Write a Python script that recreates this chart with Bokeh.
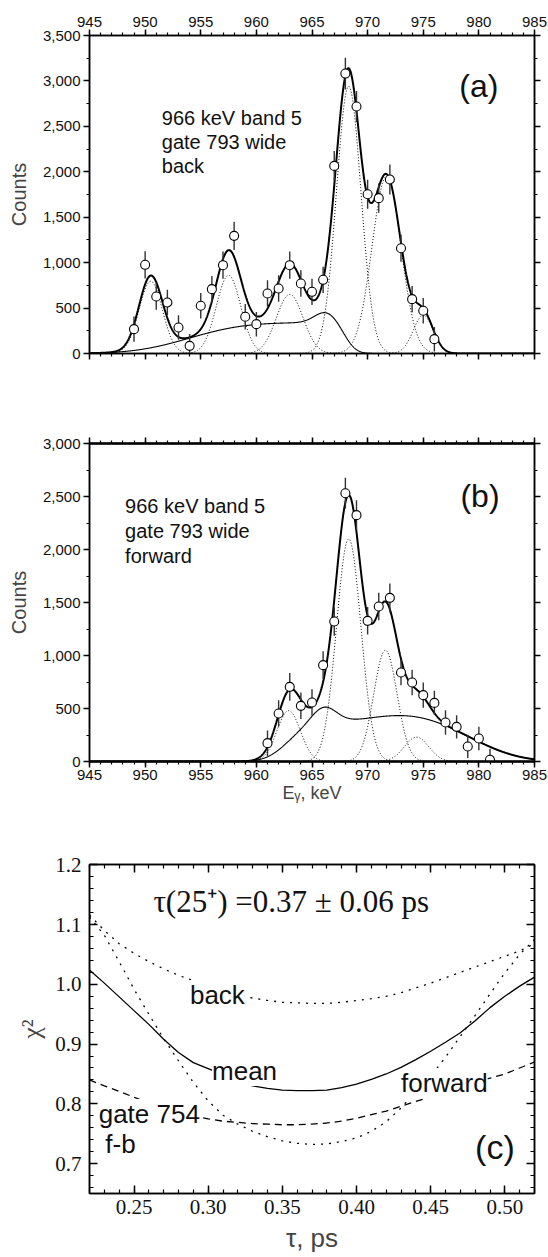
import math
import numpy as np
from bokeh.plotting import figure
from bokeh.layouts import column
from bokeh.models import (LinearAxis, SingleIntervalTicker, NumeralTickFormatter,
                          Label, Range1d, CustomLabelingPolicy)
from bokeh.embed import file_html
from bokeh.resources import INLINE

# ---------------- panel (a): back ----------------
a_energy = [949, 950, 951, 952, 953, 954, 955, 956, 957, 958, 959, 960, 961, 962,
            963, 964, 965, 966, 967, 968, 969, 970, 971, 972, 973, 974, 975, 976]
a_counts = [268, 976, 627, 561, 286, 84, 525, 708, 972, 1295, 404, 323, 660, 715,
            972, 770, 679, 811, 2065, 3081, 2718, 1753, 1710, 1915, 1159, 598, 470, 158]
a_err = [140, 150, 145, 140, 135, 130, 140, 145, 150, 155, 140, 135, 145, 145,
         150, 145, 145, 145, 165, 175, 170, 160, 160, 165, 150, 145, 140, 135]
a_peak_center = [950.5, 957.5, 963.0, 968.3, 971.7, 975.0]
a_peak_height = [795, 860, 650, 2940, 1950, 420]
a_peak_sigma = [1.05, 1.1, 1.2, 1.1, 1.3, 0.9]
a_bg_level = 340
a_bg_rise = [954.0, 5.5]
a_bg_fall = [968.0, 1.2]
a_bg_bump = [966.2, 115, 1.0]

# ---------------- panel (b): forward ----------------
b_energy = [961, 962, 963, 964, 965, 966, 967, 968, 969, 970, 971, 972, 973, 974,
            975, 976, 977, 978, 979, 980, 981]
b_counts = [173, 453, 704, 525, 557, 909, 1321, 2531, 2324, 1327, 1462, 1544, 840, 745,
            626, 553, 368, 327, 142, 217, 16]
b_err = [120, 125, 130, 125, 125, 130, 135, 145, 140, 130, 130, 135, 120, 120,
         120, 115, 115, 110, 110, 110, 105]
b_peak_center = [962.9, 968.3, 971.6, 974.4]
b_peak_height = [480, 2100, 1050, 230]
b_peak_sigma = [1.05, 1.1, 1.05, 1.1]
b_bg_level = 360
b_bg_rise = [962.8, 2.2]
b_bg_fall = [980.0, 4.5]
b_bg_bump = [966.1, 150, 1.1]
b_bg_hump = [973.5, 80, 3.5]

# ---------------- panel (c): chi-square ----------------
tau = [0.22, 0.23, 0.24, 0.25, 0.26, 0.27, 0.28, 0.29, 0.30, 0.31, 0.32, 0.33, 0.34,
       0.35, 0.36, 0.37, 0.38, 0.39, 0.40, 0.41, 0.42, 0.43, 0.44, 0.45, 0.46, 0.47,
       0.48, 0.49, 0.50, 0.51, 0.52]
chi_back = [1.116, 1.090, 1.068, 1.052, 1.038, 1.026, 1.015, 1.006, 0.998, 0.990, 0.983,
            0.977, 0.973, 0.970, 0.969, 0.968, 0.968, 0.970, 0.973, 0.976, 0.980, 0.986,
            0.994, 1.002, 1.011, 1.020, 1.029, 1.038, 1.047, 1.056, 1.068]
chi_forward = [1.113, 1.082, 1.038, 0.992, 0.950, 0.909, 0.872, 0.836, 0.805, 0.781,
               0.766, 0.754, 0.745, 0.738, 0.734, 0.732, 0.733, 0.737, 0.743, 0.754,
               0.770, 0.793, 0.821, 0.846, 0.878, 0.913, 0.948, 0.984, 1.019, 1.050, 1.075]
chi_mean = [1.024, 1.002, 0.979, 0.956, 0.933, 0.908, 0.886, 0.869, 0.859, 0.849, 0.839,
            0.830, 0.826, 0.823, 0.822, 0.822, 0.823, 0.827, 0.833, 0.841, 0.850, 0.861,
            0.874, 0.888, 0.903, 0.919, 0.939, 0.961, 0.980, 0.997, 1.012]
chi_gate754 = [0.840, 0.830, 0.821, 0.811, 0.802, 0.794, 0.787, 0.780, 0.775, 0.771,
               0.769, 0.767, 0.766, 0.765, 0.765, 0.766, 0.768, 0.771, 0.776, 0.782,
               0.788, 0.796, 0.804, 0.812, 0.820, 0.828, 0.836, 0.843, 0.850, 0.860, 0.870]

SANS = "Liberation Sans"
SERIF = "Liberation Serif"


def gauss(x, c, h, s):
    return h * np.exp(-(x - c) ** 2 / (2.0 * s * s))


def erf_arr(v):
    return np.array([math.erf(t) for t in v])


def step_up(x, c, w):
    return 0.5 * (1.0 + erf_arr((x - c) / w))


def step_down(x, c, w):
    return 0.5 * (1.0 - erf_arr((x - c) / w))


def no_labels():
    return CustomLabelingPolicy(code="for (const i of indices) indices.unset(i)\nreturn indices")


def style_axis(ax, font, size, labels=True, inward=False, fmt=None):
    ax.axis_line_width = 1.5
    ax.axis_line_color = "black"
    ax.major_tick_line_width = 1.5
    ax.minor_tick_line_width = 1.2
    ax.major_tick_line_color = "black"
    ax.minor_tick_line_color = "black"
    if inward:
        ax.major_tick_in, ax.major_tick_out = 8, 0
        ax.minor_tick_in, ax.minor_tick_out = 4, 0
    else:
        ax.major_tick_in, ax.major_tick_out = 0, 6
        ax.minor_tick_in, ax.minor_tick_out = 0, 3
    ax.major_label_text_font = font
    ax.major_label_text_color = "#111111"
    if labels:
        ax.major_label_text_font_size = size
        ax.major_label_standoff = 3
        if fmt is not None:
            ax.formatter = fmt
    else:
        ax.major_label_text_font_size = "1px"
        ax.major_label_policy = no_labels()
        ax.major_label_standoff = 0


def spectrum_panel(height, btop, bbot, energy, counts, err, centers, heights, sigmas,
                   bg, ymax, top_labels, bottom_labels, xlabel):
    p = figure(width=548, height=height, x_range=Range1d(945, 985), y_range=Range1d(0, ymax),
               output_backend="svg", toolbar_location=None,
               min_border_left=89, min_border_right=14, min_border_top=btop,
               min_border_bottom=bbot, background_fill_color="white",
               border_fill_color="white")
    p.outline_line_color = "black"
    p.outline_line_width = 1.5
    p.xgrid.visible = False
    p.ygrid.visible = False
    p.xaxis.ticker = SingleIntervalTicker(interval=5, num_minor_ticks=5)
    p.yaxis.ticker = SingleIntervalTicker(interval=500, num_minor_ticks=2)
    style_axis(p.xaxis[0], SANS, "15px", labels=bottom_labels, fmt=NumeralTickFormatter(format="0"))
    style_axis(p.yaxis[0], SANS, "15px", labels=True, fmt=NumeralTickFormatter(format="0,0"))
    if bottom_labels:
        p.xaxis.major_label_standoff = 2
    p.yaxis.axis_label = "Counts"
    p.yaxis.axis_label_text_font = SANS
    p.yaxis.axis_label_text_font_size = "20px"
    p.yaxis.axis_label_text_font_style = "normal"
    p.yaxis.axis_label_standoff = 10
    if xlabel:
        p.xaxis.axis_label = xlabel
        p.xaxis.axis_label_text_font = SANS
        p.xaxis.axis_label_text_font_size = "18px"
        p.xaxis.axis_label_text_font_style = "normal"
        p.xaxis.axis_label_standoff = 0
    top = LinearAxis(ticker=SingleIntervalTicker(interval=5, num_minor_ticks=5))
    style_axis(top, SANS, "15px", labels=top_labels, fmt=NumeralTickFormatter(format="0"))
    p.add_layout(top, "above")
    right = LinearAxis(ticker=SingleIntervalTicker(interval=500, num_minor_ticks=2))
    style_axis(right, SANS, "15px", labels=False)
    p.add_layout(right, "right")

    x = np.linspace(945, 985, 1601)
    comps = [gauss(x, c, h, s) for c, h, s in zip(centers, heights, sigmas)]
    total = bg(x) + sum(comps)
    for comp in comps:
        p.line(x, comp, line_color="black", line_width=1.0, line_dash="1 2")
    p.line(x, bg(x), line_color="black", line_width=1.1)
    p.line(x, total, line_color="black", line_width=2.0)
    lo = [c - e for c, e in zip(counts, err)]
    hi = [c + e for c, e in zip(counts, err)]
    p.segment(x0=energy, y0=lo, x1=energy, y1=hi, line_color="#333333", line_width=1.4)
    p.scatter(energy, counts, marker="circle", size=9, fill_color="white",
              line_color="black", line_width=1.1)
    return p


def bg_a(x):
    return (a_bg_level * step_up(x, *a_bg_rise) * step_down(x, *a_bg_fall)
            + gauss(x, *a_bg_bump))


def bg_b(x):
    return (b_bg_level * step_up(x, *b_bg_rise) * step_down(x, *b_bg_fall)
            + gauss(x, *b_bg_bump)
            + gauss(x, *b_bg_hump) * step_down(x, *b_bg_fall))


pa = spectrum_panel(375, 35, 22, a_energy, a_counts, a_err, a_peak_center, a_peak_height,
                    a_peak_sigma, bg_a, 3500, True, False, None)
for i, t in enumerate(["966 keV band 5", "gate 793 wide", "back"]):
    pa.add_layout(Label(x=951.5, y=2596 - 264 * i, text=t, text_font=SANS,
                        text_font_size="20px", text_baseline="middle", text_align="left",
                        text_color="#111111"))
pa.add_layout(Label(x=980.0, y=2948, text="(a)", text_font=SANS, text_font_size="32px",
                    text_baseline="middle", text_align="center", text_color="#111111"))

pb = spectrum_panel(432, 68, 46, b_energy, b_counts, b_err, b_peak_center, b_peak_height,
                    b_peak_sigma, bg_b, 3000, False, True, "E\u1d67, keV")
pb.xaxis.axis_line_width = 2.5
for i, t in enumerate(["966 keV band 5", "gate 793 wide", "forward"]):
    pb.add_layout(Label(x=948.2, y=2415 - 236 * i, text=t, text_font=SANS,
                        text_font_size="20px", text_baseline="middle", text_align="left",
                        text_color="#111111"))
pb.add_layout(Label(x=980.1, y=2509, text="(b)", text_font=SANS, text_font_size="32px",
                    text_baseline="middle", text_align="center", text_color="#111111"))

# ---------------- panel (c) ----------------
pc = figure(width=548, height=450, x_range=Range1d(0.22, 0.52), y_range=Range1d(0.65, 1.2005),
            output_backend="svg", toolbar_location=None,
            min_border_left=85, min_border_right=2, min_border_top=57, min_border_bottom=64,
            background_fill_color="white", border_fill_color="white")
pc.outline_line_color = "black"
pc.outline_line_width = 1.5
pc.xgrid.visible = False
pc.ygrid.visible = False
pc.xaxis.ticker = SingleIntervalTicker(interval=0.05, num_minor_ticks=5)
pc.yaxis.ticker = SingleIntervalTicker(interval=0.1, num_minor_ticks=5)
style_axis(pc.xaxis[0], SERIF, "21px", inward=True, fmt=NumeralTickFormatter(format="0.00"))
style_axis(pc.yaxis[0], SERIF, "21px", inward=True, fmt=NumeralTickFormatter(format="0.0"))
pc.xaxis.major_label_standoff = 6
pc.yaxis.major_label_standoff = 8
pc.xaxis.axis_label = "\u03c4, ps"
pc.xaxis.axis_label_text_font = SANS
pc.xaxis.axis_label_text_font_size = "26px"
pc.xaxis.axis_label_text_font_style = "normal"
pc.xaxis.axis_label_standoff = 6
pc.yaxis.axis_label = "\u03c7\u00b2"
pc.yaxis.axis_label_text_font = SERIF
pc.yaxis.axis_label_text_font_size = "26px"
pc.yaxis.axis_label_text_font_style = "normal"
pc.yaxis.axis_label_standoff = 6
topc = LinearAxis(ticker=SingleIntervalTicker(interval=0.05, num_minor_ticks=5))
style_axis(topc, SERIF, "21px", labels=False, inward=True)
pc.add_layout(topc, "above")
rightc = LinearAxis(ticker=SingleIntervalTicker(interval=0.1, num_minor_ticks=5))
style_axis(rightc, SERIF, "21px", labels=False, inward=True)
pc.add_layout(rightc, "right")

pc.line(tau, chi_back, line_color="black", line_width=1.3, line_dash="2 6")
pc.line(tau, chi_forward, line_color="black", line_width=1.3, line_dash="2 6")
pc.line(tau, chi_mean, line_color="black", line_width=1.3)
pc.line(tau, chi_gate754, line_color="black", line_width=1.3, line_dash="7 5")

for txt, x, y in [("back", 0.2877, 0.982), ("mean", 0.3026, 0.855),
                  ("forward", 0.430, 0.835), ("gate 754", 0.2262, 0.783),
                  ("f-b", 0.2307, 0.733)]:
    pc.add_layout(Label(x=x, y=y, text=txt, text_font=SANS, text_font_size="26px",
                        text_baseline="middle", text_align="left", text_color="#111111",
                        background_fill_color="white"))
pc.add_layout(Label(x=0.356, y=1.138, text="\u03c4(25\u207a) =0.37 \u00b1 0.06 ps",
                    text_font=SERIF, text_font_size="31px", text_baseline="middle",
                    text_align="center", text_color="#111111"))
pc.add_layout(Label(x=0.4933, y=0.727, text="(c)", text_font=SANS, text_font_size="34px",
                    text_baseline="middle", text_align="center", text_color="#111111"))

layout = column(pa, pb, pc, spacing=0)
open("out.html", "w").write(file_html(layout, INLINE))
